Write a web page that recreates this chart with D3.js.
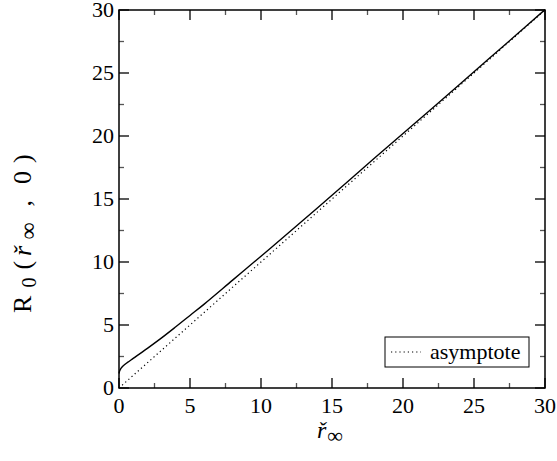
<!DOCTYPE html>
<html>
<head>
<meta charset="utf-8">
<script src="https://cdn.jsdelivr.net/npm/d3@7"></script>
<style>
body { margin: 0; background: #fff; }
svg text { font-family: "Liberation Serif", "Times New Roman", serif; fill: #000; }
</style>
</head>
<body>
<svg id="canvas" width="557" height="461"></svg>
<script>
// curve
var rVals = [0, 0.05, 0.15, 0.3, 0.6, 1, 2, 3, 4, 5, 6, 8, 10, 12, 15, 18, 20, 22, 25, 28, 30];
var R0Vals = [1.15, 1.36, 1.57, 1.76, 2.03, 2.35, 3.15, 3.98, 4.86, 5.76, 6.66, 8.56, 10.46, 12.38, 15.3, 18.25, 20.2, 22.15, 25.1, 28.05, 30.03];
var asymX = [0, 30];
var asymY = [0, 30];
var majorTicks = [0, 5, 10, 15, 20, 25, 30];
var minorTicks = [2.5, 7.5, 12.5, 17.5, 22.5, 27.5];

var svg = d3.select('#canvas');
// plot box (note: "top" is taken by window.top)
var pLeft = 119, pRight = 545, pTop = 10, pBottom = 388;

var x = d3.scaleLinear().domain([0, 30]).range([pLeft, pRight]);
var y = d3.scaleLinear().domain([0, 30]).range([pBottom, pTop]);

var line = d3.line()
    .x(function(d) { return x(d[0]); })
    .y(function(d) { return y(d[1]); })
    .curve(d3.curveCatmullRom.alpha(0.5));

svg.append('path')
    .datum(d3.zip(asymX, asymY))
    .attr('d', line)
    .attr('fill', 'none')
    .attr('stroke', '#000')
    .attr('stroke-width', 1.2)
    .attr('stroke-dasharray', '1.2,3');

svg.append('path')
    .datum(d3.zip(rVals, R0Vals))
    .attr('d', line)
    .attr('fill', 'none')
    .attr('stroke', '#000')
    .attr('stroke-width', 1.4);

// ticks on all four sides, pointing inward
function ticks(vals, len, color) {
    vals.forEach(function(v) {
        var g = svg.append('g').attr('stroke', color).attr('stroke-width', 1.3);
        g.append('line').attr('x1', x(v)).attr('x2', x(v)).attr('y1', pBottom).attr('y2', pBottom - len);
        g.append('line').attr('x1', x(v)).attr('x2', x(v)).attr('y1', pTop).attr('y2', pTop + len);
        g.append('line').attr('y1', y(v)).attr('y2', y(v)).attr('x1', pLeft).attr('x2', pLeft + len);
        g.append('line').attr('y1', y(v)).attr('y2', y(v)).attr('x1', pRight).attr('x2', pRight - len);
    });
}
ticks(majorTicks, 10, '#000');
ticks(minorTicks, 5, '#555');

svg.append('rect')
    .attr('x', pLeft).attr('y', pTop)
    .attr('width', pRight - pLeft).attr('height', pBottom - pTop)
    .attr('fill', 'none').attr('stroke', '#000').attr('stroke-width', 1.5);

svg.selectAll('.xl').data(majorTicks).enter().append('text')
    .attr('x', function(d) { return x(d); })
    .attr('y', pBottom + 25)
    .attr('text-anchor', 'middle')
    .attr('font-size', 22)
    .text(function(d) { return d; });

svg.selectAll('.yl').data(majorTicks).enter().append('text')
    .attr('x', pLeft - 5)
    .attr('y', function(d) { return y(d) + 7; })
    .attr('text-anchor', 'end')
    .attr('font-size', 22)
    .text(function(d) { return d; });

// x title
var xt = svg.append('text')
    .attr('x', 317)
    .attr('y', 438)
    .attr('font-size', 24);
xt.append('tspan').attr('font-style', 'italic').text('ř');
xt.append('tspan').attr('font-size', 22).attr('dy', 5).attr('dx', 1).text('∞');

// y title, glyphs spaced like TeX math
var yt = svg.append('g').attr('transform', 'translate(31,313) rotate(-90)');
var yParts = [
    { t: 'R', at: 0, dy: 0, fs: 26, it: false },
    { t: '0', at: 17, dy: 5, fs: 20, it: false },
    { t: '(', at: 29, dy: 0, fs: 26, it: false },
    { t: 'ř', at: 38, dy: 0, fs: 26, it: true },
    { t: '∞', at: 49, dy: 5, fs: 24, it: false },
    { t: ',', at: 71, dy: 0, fs: 26, it: false },
    { t: '0', at: 86, dy: 0, fs: 26, it: false },
    { t: ')', at: 100, dy: 0, fs: 26, it: false }
];
yt.selectAll('text').data(yParts).enter().append('text')
    .attr('x', function(d) { return d.at * 1.5; })
    .attr('y', function(d) { return d.dy; })
    .attr('font-size', function(d) { return d.fs; })
    .attr('font-style', function(d) { return d.it ? 'italic' : 'normal'; })
    .text(function(d) { return d.t; });

// legend
var lg = svg.append('g');
lg.append('rect')
    .attr('x', 385).attr('y', 337).attr('width', 144).attr('height', 30)
    .attr('fill', '#fff').attr('stroke', '#000').attr('stroke-width', 1);
lg.append('line')
    .attr('x1', 391).attr('x2', 421).attr('y1', 352).attr('y2', 352)
    .attr('stroke', '#000').attr('stroke-width', 1.2).attr('stroke-dasharray', '1.2,3');
lg.append('text')
    .attr('x', 430).attr('y', 359)
    .attr('font-size', 22)
    .text('asymptote');
</script>
</body>
</html>
